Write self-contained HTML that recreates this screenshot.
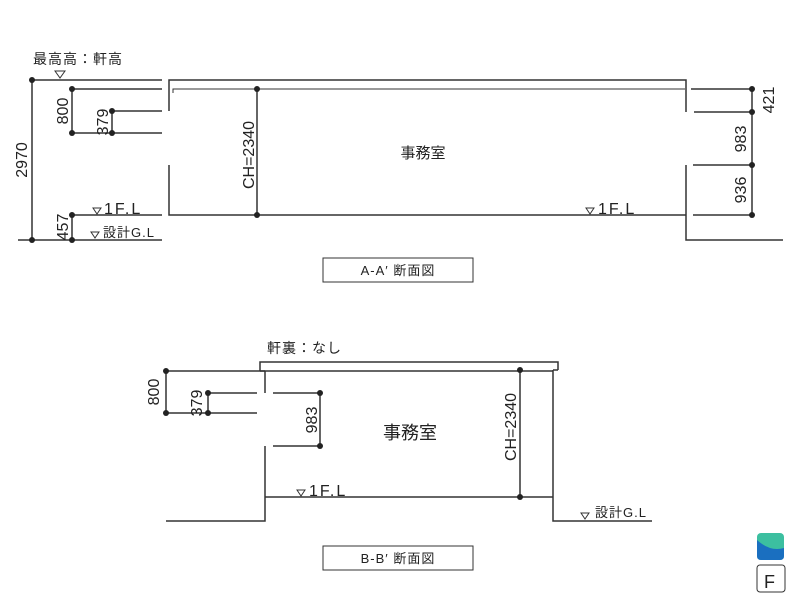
<!DOCTYPE html>
<html><head><meta charset="utf-8"><style>
body{margin:0;background:#fff;}
svg{display:block;font-family:"Liberation Sans","Noto Sans CJK JP",sans-serif;}
text{fill:#222;}
</style></head><body>
<svg width="800" height="600" viewBox="0 0 800 600" xmlns="http://www.w3.org/2000/svg">
<g stroke="#333" stroke-width="1.5" fill="none">
<path d="M169,111 V80 H686 V112"/>
<path d="M173,93 V89 H685" stroke-width="1"/>
<path d="M169,165 V215 H686"/>
<path d="M686,165 V240 H783"/>
<path d="M32,80 H162 M72,89 H162 M112,111 H162 M72,133 H162 M72,89 V133 M112,111 V133"/>
<path d="M72,215 H162 M18,240 H162 M32,80 V240 M72,215 V240"/>
<path d="M257,89 V215"/>
<path d="M691,89 H752 M694,112 H752 M693,165 H752 M693,215 H752 M752,89 V215"/>
<path d="M260,371 V362 H558 V370 M260,371 H265 M553,370 H558"/>
<path d="M166,371 H553"/>
<path d="M265,371 V393 M265,446 V521 H166"/>
<path d="M265,497 H553 M553,370 V521 H652"/>
<path d="M208,393 H257 M166,413 H257 M166,371 V413 M208,393 V413"/>
<path d="M273,393 H320 M273,446 H320 M320,393 V446"/>
<path d="M520,370 V497"/>
<rect x="323" y="258" width="150" height="24" stroke-width="1"/>
<rect x="323" y="546" width="150" height="24" stroke-width="1"/>
<path d="M55,71 H65 L60,78 Z M93,208 H101 L97,214 Z M91,232 H99 L95,238 Z M586,208 H594 L590,214 Z M297,490 H305 L301,496 Z M581,513 H589 L585,519 Z" stroke-width="1"/>
</g>
<g fill="#222">
<circle cx="32" cy="80" r="3"/><circle cx="72" cy="89" r="3"/><circle cx="112" cy="111" r="3"/>
<circle cx="72" cy="133" r="3"/><circle cx="112" cy="133" r="3"/><circle cx="72" cy="215" r="3"/>
<circle cx="32" cy="240" r="3"/><circle cx="72" cy="240" r="3"/>
<circle cx="257" cy="89" r="3"/><circle cx="257" cy="215" r="3"/>
<circle cx="752" cy="89" r="3"/><circle cx="752" cy="112" r="3"/><circle cx="752" cy="165" r="3"/><circle cx="752" cy="215" r="3"/>
<circle cx="166" cy="371" r="3"/><circle cx="208" cy="393" r="3"/><circle cx="166" cy="413" r="3"/><circle cx="208" cy="413" r="3"/>
<circle cx="320" cy="393" r="3"/><circle cx="320" cy="446" r="3"/>
<circle cx="520" cy="370" r="3"/><circle cx="520" cy="497" r="3"/>
</g>
<g font-size="14">
<text x="33" y="64" letter-spacing="1">最高高：軒高</text>
<text x="104" y="214" font-size="16" letter-spacing="2">1F.L</text>
<text x="103" y="237" font-size="13" letter-spacing="1">設計G.L</text>
<text x="598" y="214" font-size="16" letter-spacing="2">1F.L</text>
<text x="267" y="353" letter-spacing="1">軒裏：なし</text>
<text x="309" y="496" font-size="16" letter-spacing="2">1F.L</text>
<text x="595" y="517" font-size="13" letter-spacing="1">設計G.L</text>
<text x="423" y="158" text-anchor="middle" font-size="15">事務室</text>
<text x="410" y="439" text-anchor="middle" font-size="18">事務室</text>
<text x="398" y="275" text-anchor="middle" font-size="13" letter-spacing="1">A-A′ 断面図</text>
<text x="398" y="563" text-anchor="middle" font-size="13" letter-spacing="1">B-B′ 断面図</text>
<text transform="translate(27,160) rotate(-90)" text-anchor="middle" font-size="16">2970</text>
<text transform="translate(68,111) rotate(-90)" text-anchor="middle" font-size="16">800</text>
<text transform="translate(108,122) rotate(-90)" text-anchor="middle" font-size="16">379</text>
<text transform="translate(68,227) rotate(-90)" text-anchor="middle" font-size="16">457</text>
<text transform="translate(254,155) rotate(-90)" text-anchor="middle" font-size="16">CH=2340</text>
<text transform="translate(774,100) rotate(-90)" text-anchor="middle" font-size="16">421</text>
<text transform="translate(746,139) rotate(-90)" text-anchor="middle" font-size="16">983</text>
<text transform="translate(746,190) rotate(-90)" text-anchor="middle" font-size="16">936</text>
<text transform="translate(159,392) rotate(-90)" text-anchor="middle" font-size="16">800</text>
<text transform="translate(202,403) rotate(-90)" text-anchor="middle" font-size="16">379</text>
<text transform="translate(317,420) rotate(-90)" text-anchor="middle" font-size="16">983</text>
<text transform="translate(516,427) rotate(-90)" text-anchor="middle" font-size="16">CH=2340</text>
</g>
<rect x="757" y="533" width="27" height="27" rx="4" fill="#3cbfa0"/>
<path d="M757,540 Q770,552 784,548 V556 Q784,560 780,560 H761 Q757,560 757,556 Z" fill="#1a6fc0"/>
<rect x="757" y="565" width="28" height="27" rx="3" fill="#fff" stroke="#333" stroke-width="1"/>
<text x="764" y="588" font-size="18" fill="#222">F</text>
</svg>
</body></html>
